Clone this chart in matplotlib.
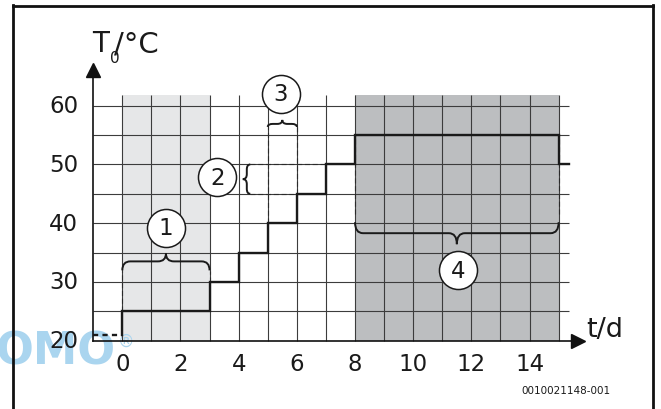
import matplotlib
matplotlib.use("Agg")
import matplotlib.pyplot as plt
from matplotlib.path import Path
from matplotlib.patches import PathPatch, Rectangle
from matplotlib.lines import Line2D

# ---------------- data ----------------
step_days = [0, 0, 3, 4, 5, 6, 7, 8, 15, 15.37]
step_temps = [21, 25, 30, 35, 40, 45, 50, 55, 50, 50]
pre_days = [-1, 0]
pre_temps = [21, 21]
x_ticks = [0, 2, 4, 6, 8, 10, 12, 14]
y_ticks = [20, 30, 40, 50, 60]
grid_days = list(range(0, 16))
grid_temps = [25, 30, 35, 40, 45, 50, 55, 60]
light_zone = (0, 3)
dark_zone = (8, 15)
circle_labels = ["1", "2", "3", "4"]
circle_t = [1.49, 3.27, 5.45, 11.55]
circle_T = [39.2, 47.8, 62.0, 32.0]
y_label = "T"
y_label_sub = "0"
y_label_rest = "/°C"
x_label = "t/d"
footer = "0010021148-001"

# ---------------- geometry ----------------
W, H = 661, 410
PXD = 29.09   # px per day
PXT = 5.875   # px per degree
X0 = 122.3    # px of t=0
Y20 = 341.7   # px (from top) of T=20

def tx(px):
    return (px - X0) / PXD

def ty(py):
    return 20 + (Y20 - py) / PXT

fig = plt.figure(figsize=(W / 100, H / 100), dpi=100)
ax = fig.add_axes([0, 0, 1, 1])
ax.set_xlim(tx(0), tx(W))
ax.set_ylim(ty(H), ty(0))
ax.axis("off")

FONT = "DejaVu Sans"
TXT = "#1a1a1a"
dx = 1 / PXD
dy = 1 / PXT
grid_top = 61.8
grid_right = 15.37

# shaded zones
ax.add_patch(Rectangle((light_zone[0], 20), light_zone[1] - light_zone[0], grid_top - 20,
                       facecolor="#e6e7e8", edgecolor="none", zorder=0.5))
ax.add_patch(Rectangle((dark_zone[0], 20), dark_zone[1] - dark_zone[0], grid_top - 20,
                       facecolor="#bcbec0", edgecolor="none", zorder=0.5))

# grid
gc = "#3c3c3c"
for T in grid_temps:
    ax.plot([-1, grid_right], [T, T], color=gc, lw=0.8, zorder=1, solid_capstyle="butt")
for t in grid_days:
    ax.plot([t, t], [20, grid_top], color=gc, lw=0.8, zorder=1, solid_capstyle="butt")

# axes lines with arrows
ax.plot([-1, 15.67], [20, 20], color="#111111", lw=1.2, zorder=2)
ax.plot([-1, -1], [20, 66.0], color="#111111", lw=1.2, zorder=2)
ax.plot([15.67], [20], marker=">", ms=9.5, color="#111111", zorder=3)
ax.plot([-1], [66.0], marker="^", ms=9.5, color="#111111", zorder=3)

# step line
ax.plot(step_days, step_temps, drawstyle="steps-post", color=TXT, lw=1.7,
        zorder=4, solid_joinstyle="miter")
ax.plot(pre_days, pre_temps, color=TXT, lw=1.7, linestyle=(0, (2.2, 1.8)), zorder=4)

# thin dashed helper lines
dls = dict(color="#2a2a2a", lw=0.8, linestyle=(0, (4.5, 2.5)), zorder=3)
ax.plot([0, 0], [25, 31.9], **dls)
ax.plot([3, 3], [30, 31.9], **dls)
ax.plot([5, 5], [40, 56.5], **dls)
ax.plot([6, 6], [45, 56.5], **dls)
ax.plot([4.39, 7], [50, 50], **dls)
ax.plot([4.39, 6], [45, 45], **dls)
ax.plot([8, 8], [41.6, 55], **dls)
ax.plot([15, 15], [41.6, 55], **dls)


def hbrace(a, b, pos, end_off, tip_off, r=8):
    """horizontal brace; offsets in px (positive = up)."""
    m = (a + b) / 2
    verts = [(a, pos + end_off * dy), (a, pos), (a + r * dx, pos),
             (m - r * dx, pos), (m, pos), (m, pos + tip_off * dy),
             (m, pos), (m + r * dx, pos),
             (b - r * dx, pos), (b, pos), (b, pos + end_off * dy)]
    codes = [Path.MOVETO, Path.CURVE3, Path.CURVE3,
             Path.LINETO, Path.CURVE3, Path.CURVE3,
             Path.CURVE3, Path.CURVE3,
             Path.LINETO, Path.CURVE3, Path.CURVE3]
    ax.add_patch(PathPatch(Path(verts, codes), facecolor="none", edgecolor=TXT,
                           lw=1.4, zorder=5))


def vbrace(a, b, pos, end_off, tip_off, r=6):
    """vertical brace; offsets in px (positive = right)."""
    m = (a + b) / 2
    verts = [(pos + end_off * dx, a), (pos, a), (pos, a + r * dy),
             (pos, m - r * dy), (pos, m), (pos + tip_off * dx, m),
             (pos, m), (pos, m + r * dy),
             (pos, b - r * dy), (pos, b), (pos + end_off * dx, b)]
    codes = [Path.MOVETO, Path.CURVE3, Path.CURVE3,
             Path.LINETO, Path.CURVE3, Path.CURVE3,
             Path.CURVE3, Path.CURVE3,
             Path.LINETO, Path.CURVE3, Path.CURVE3]
    ax.add_patch(PathPatch(Path(verts, codes), facecolor="none", edgecolor=TXT,
                           lw=1.4, zorder=5))


hbrace(0, 3, 33.5, -9, 8)
hbrace(8, 15, 38.3, 11, -11)
hbrace(5, 6, 56.9, -3, 4, r=5)
vbrace(45, 50, 4.28, 3.5, -4, r=5)

# numbered circles
ax.plot(circle_t, circle_T, linestyle="none", marker="o", ms=27.4, mfc="white",
        mec=TXT, mew=1.1, zorder=6)
for lab, t, T in zip(circle_labels, circle_t, circle_T):
    ax.text(t, T, lab, ha="center", va="center", fontsize=16.5, family=FONT,
            color=TXT, zorder=7)

# tick labels
for v in y_ticks:
    ax.text(tx(78), v, str(v), ha="right", va="center", fontsize=16.5, family=FONT,
            color=TXT, zorder=7)
for v in x_ticks:
    ax.text(v, ty(365), str(v), ha="center", va="center", fontsize=16.5, family=FONT,
            color=TXT, zorder=7)

# axis labels
ax.text(tx(92), ty(52.5), y_label, ha="left", va="baseline", fontsize=20, family=FONT,
        color=TXT)
ax.text(tx(110), ty(63.5), y_label_sub, ha="left", va="baseline", fontsize=11, family=FONT,
        color=TXT)
ax.text(tx(114), ty(52.5), y_label_rest, ha="left", va="baseline", fontsize=21, family=FONT,
        color=TXT)
ax.text(tx(586.5), ty(336.7), x_label, ha="left", va="baseline", fontsize=19.5, family=FONT,
        color=TXT)
ax.text(tx(566), ty(390.7), footer, ha="center", va="center", fontsize=7.5, family=FONT,
        color=TXT)

# watermark
ax.text(tx(116), ty(365), "OMO", ha="right", va="baseline", fontsize=32,
        family="DejaVu Sans", weight="bold", color="#aad5ef", zorder=0.6)
ax.text(tx(118), ty(333), "®", ha="left", va="top", fontsize=12,
        family="DejaVu Sans", color="#aad5ef", zorder=0.6)

# frame
fc = "#111111"
fig.add_artist(Line2D([13.5 / W, 13.5 / W], [0, 1 - 6 / H], color=fc, lw=2.0))
fig.add_artist(Line2D([653 / W, 653 / W], [0, 1 - 6 / H], color=fc, lw=2.0))
fig.add_artist(Line2D([13.5 / W, 653 / W], [1 - 6.5 / H, 1 - 6.5 / H], color=fc, lw=2.0,
                      solid_capstyle="projecting"))

fig.savefig("out.png", dpi=100)
